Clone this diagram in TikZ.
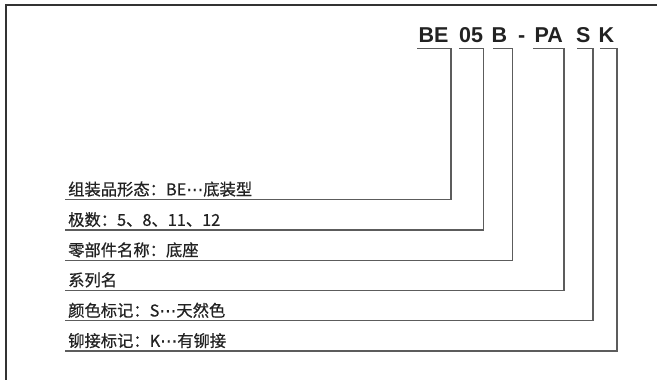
\documentclass[tikz,border=0pt]{standalone}
\usepackage{fontspec}
\newfontfamily\cjk{Noto Sans CJK SC}[FakeBold=0.6]
\newfontfamily\codefont{Liberation Sans}
\newfontfamily\punktfont{DejaVu Sans}[FakeBold=0.6]
\newcommand{\pkte}{{\punktfont\fontsize{17}{19}\selectfont ⋯}}
\definecolor{rahmenf}{HTML}{333333}
\definecolor{leitf}{HTML}{5C5C5C}
\definecolor{schrift}{HTML}{222222}
\tikzset{
  code/.style={anchor=base west,inner sep=0pt,text=schrift,font=\codefont\bfseries\fontsize{21.5}{24}\selectfont},
  bez/.style={anchor=south west,inner xsep=3pt,inner ysep=4pt,text depth=0pt,text=schrift,font=\cjk\fontsize{16.3}{19}\selectfont},
  leit/.style={leitf,line width=1.1pt},
  rahmen/.style={rahmenf,line width=1.4pt},
}
\begin{document}
\begin{tikzpicture}[x=1pt,y=-1pt]
  \useasboundingbox (0,0) rectangle (657,380);
  \draw[rahmen] (657,5)--(6,5)--(6,380);
  % Typenschluessel
  \node[code] (cBE) at (418.5,42.3) {BE};
  \node[code] (c05) at (459,42.3) {05};
  \node[code] (cB) at (491.5,42.3) {B};
  \node[code] (cstrich) at (518,42.3) {-};
  \node[code] (cPA) at (534.5,42.3) {PA};
  \node[code] (cS) at (576,42.3) {S};
  \node[code] (cK) at (598.5,42.3) {K};
  % Bezeichnungen
  \node[bez] (l1) at (65,199.5) {组装品形态：BE\pkte 底装型};
  \node[bez] (l2) at (65,230) {极数：5、8、11、12};
  \node[bez] (l3) at (65,260.3) {零部件名称：底座};
  \node[bez] (l4) at (65,290.3) {系列名};
  \node[bez] (l5) at (65,320.7) {颜色标记：S\pkte 天然色};
  \node[bez] (l6) at (65,351) {铆接标记：K\pkte 有铆接};
  % Klammern
  \draw[leit] ([shift={(-1.5,6)}]cBE.base west) -- +(34,0) |- (l1.south west);
  \draw[leit] ([shift={(0,6)}]c05.base west) -- +(24.3,0) |- (l2.south west);
  \draw[leit] ([shift={(1.5,6)}]cB.base west) -- +(19.5,0) |- (l3.south west);
  \draw[leit] ([shift={(-1.5,6)}]cPA.base west) -- +(31,0) |- (l4.south west);
  \draw[leit] ([shift={(1,6)}]cS.base west) -- +(16,0) |- (l5.south west);
  \draw[leit] ([shift={(1.5,6)}]cK.base west) -- +(17,0) |- (l6.south west);
\end{tikzpicture}
\end{document}
